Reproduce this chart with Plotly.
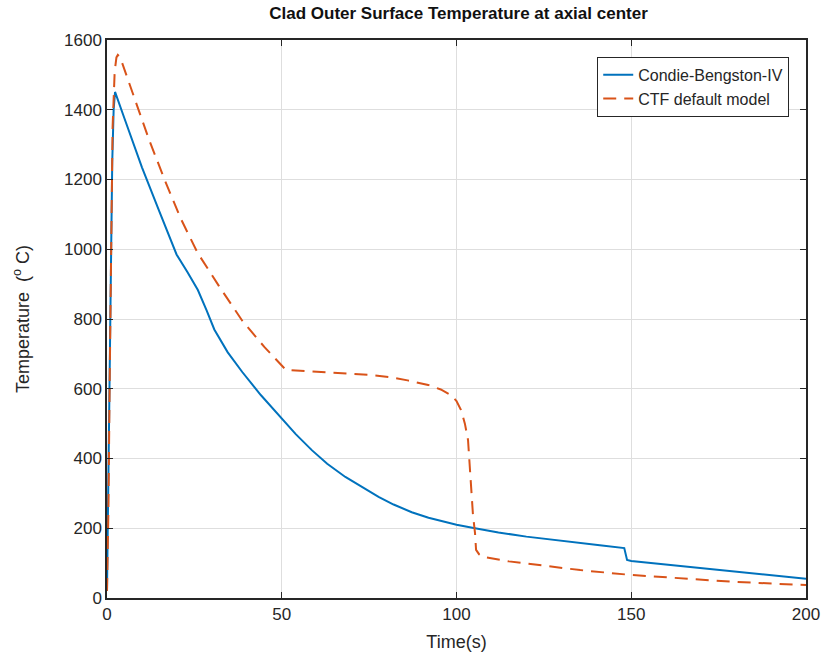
import plotly.graph_objects as go

# Condie-Bengston-IV correlation: clad outer surface temperature (deg C) vs time (s)
t_cb = [0.0, 0.3, 0.7, 1.1, 1.5, 1.9, 2.3, 5.0, 10.0, 15.0, 19.9, 23.0, 26.0,
        28.5, 30.7, 34.5, 38.7, 44.0, 49.2, 54.0, 58.6, 63.0, 68.2, 73.0,
        77.7, 82.0, 87.2, 92.0, 96.6, 100.0, 105.3, 112.0, 120.0, 127.0,
        134.6, 141.0, 148.0, 148.8, 150.0, 160.0, 175.0, 188.0, 200.0]
temp_cb = [20, 250, 650, 1000, 1250, 1400, 1451, 1375, 1235, 1108, 985, 935, 883,
           825, 770, 705, 648, 582, 525, 470, 424, 385, 347, 318,
           290, 268, 246, 230, 218, 210, 200, 188, 176, 167,
           158, 151, 143, 109, 106, 96, 80, 67, 55]

# CTF default model: clad outer surface temperature (deg C) vs time (s)
t_ctf = [0.0, 0.4, 0.8, 1.2, 1.6, 2.2, 2.7, 3.1, 3.6, 4.3, 8.0, 12.0, 16.5,
         21.0, 25.9, 32.0, 38.7, 45.0, 51.2, 55.0, 60.0, 68.2, 75.0, 80.5,
         86.0, 91.9, 95.5, 98.4, 100.0, 101.3, 102.4, 103.3, 104.1, 104.7,
         105.3, 105.6, 106.5, 107.5, 115.0, 123.0, 135.4, 150.0, 165.0,
         180.0, 200.0]
temp_ctf = [20, 250, 650, 1050, 1350, 1510, 1550, 1557, 1552, 1535, 1430, 1315, 1199,
            1090, 990, 895, 795, 720, 654, 652, 650, 645, 640, 634,
            624, 611, 598, 582, 565, 539, 500, 453, 310, 240,
            186, 138, 125, 118, 105, 95, 80, 66, 55,
            46, 37]

axis_color = "#262626"
grid_color = "#dedede"
font_family = "Liberation Sans, Arial, sans-serif"

fig = go.Figure()
fig.add_trace(go.Scatter(
    x=t_cb, y=temp_cb, mode="lines", name="Condie-Bengston-IV",
    line=dict(color="#0072BD", width=2),
))
fig.add_trace(go.Scatter(
    x=t_ctf, y=temp_ctf, mode="lines", name="CTF default model",
    line=dict(color="#D95319", width=2, dash="13px,8px"),
))

axis_common = dict(
    showline=True, linecolor=axis_color, linewidth=1.5, mirror="ticks",
    ticks="inside", ticklen=6, tickwidth=1, tickcolor=axis_color,
    showgrid=True, gridcolor=grid_color, gridwidth=1, zeroline=False,
    tickfont=dict(family=font_family, size=17, color=axis_color),
)

fig.update_xaxes(
    range=[0, 200], tickvals=[0, 50, 100, 150, 200],
    title=dict(text="Time(s)", font=dict(family=font_family, size=18, color=axis_color),
               standoff=12),
    **axis_common,
)
fig.update_yaxes(
    range=[0, 1600], tickvals=[0, 200, 400, 600, 800, 1000, 1200, 1400, 1600],
    title=dict(text="Temperature  (<sup>o</sup> C)",
               font=dict(family=font_family, size=18, color=axis_color),
               standoff=30),
    **axis_common,
)

fig.update_layout(
    width=832, height=662,
    margin=dict(l=107, r=22, t=40, b=64),
    paper_bgcolor="white", plot_bgcolor="white",
    title=dict(text="<b>Clad Outer Surface Temperature at axial center</b>",
               x=0.5 + (107 - 22) / 2 / 832, xanchor="center", y=0.99, yanchor="top",
               font=dict(family=font_family, size=17, color="#111111")),
    legend=dict(x=0.976, y=0.97, xanchor="right", yanchor="top",
                bgcolor="white", bordercolor=axis_color, borderwidth=1,
                font=dict(family=font_family, size=16, color=axis_color),
                tracegroupgap=0),
    showlegend=True,
)

fig.write_html("out.html")
